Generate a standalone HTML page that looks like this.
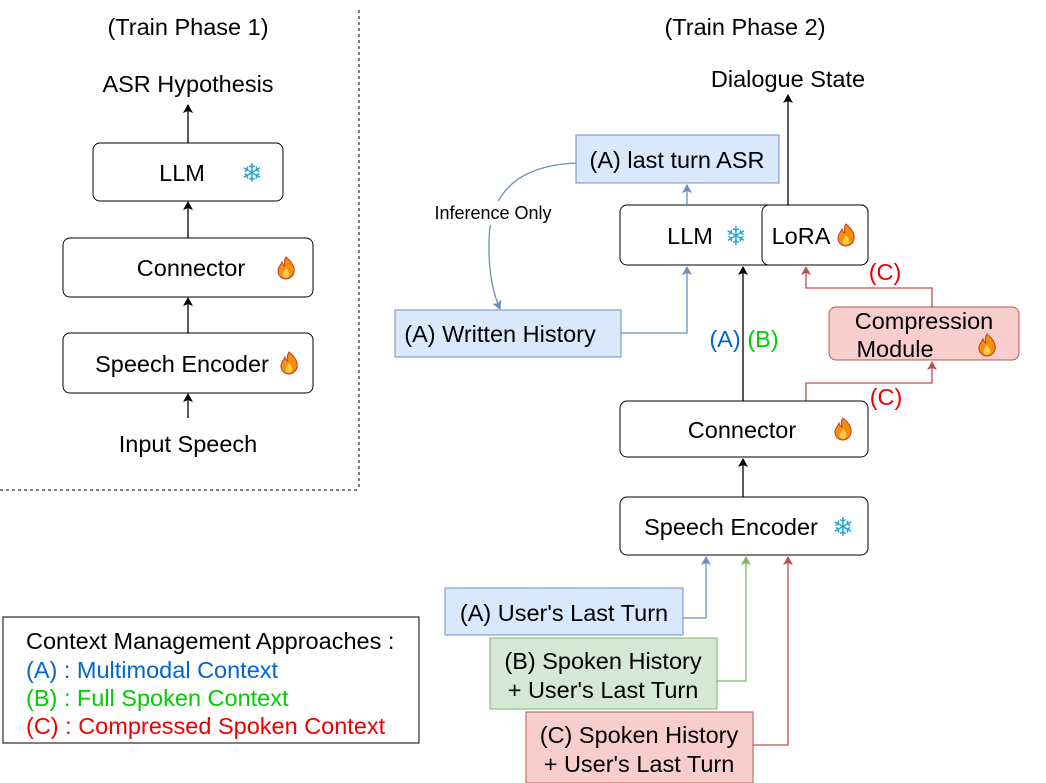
<!DOCTYPE html>
<html><head><meta charset="utf-8"><style>
html,body{margin:0;padding:0;background:#fff;}
svg{display:block;font-family:"Liberation Sans",Arial,sans-serif;}
</style></head><body>
<svg width="1046" height="783" viewBox="0 0 1046 783" xmlns="http://www.w3.org/2000/svg">
<defs>
<marker id="ak" markerWidth="10" markerHeight="10" refX="8" refY="5" orient="auto" markerUnits="userSpaceOnUse"><path d="M0,0 L9,5 L0,10 L2,5 Z" fill="#000"/></marker>
<marker id="ab" markerWidth="10" markerHeight="10" refX="8" refY="5" orient="auto" markerUnits="userSpaceOnUse"><path d="M0,0 L9,5 L0,10 L2,5 Z" fill="#6c8ebf"/></marker>
<marker id="ag" markerWidth="10" markerHeight="10" refX="8" refY="5" orient="auto" markerUnits="userSpaceOnUse"><path d="M0,0 L9,5 L0,10 L2,5 Z" fill="#82b366"/></marker>
<marker id="ar" markerWidth="10" markerHeight="10" refX="8" refY="5" orient="auto" markerUnits="userSpaceOnUse"><path d="M0,0 L9,5 L0,10 L2,5 Z" fill="#b85450"/></marker>
<g id="fire">
<path d="M0,-11 C6,-6 9,-1 8,4 C7,9 3,11 0,11 C-4,11 -8,8 -8,3 C-8,-1 -5,-3 -4,-6 C-3,-3 -2,-2 -1,-2 C-2,-5 -2,-8 0,-11 Z" fill="#f4900c" stroke="#c0392b" stroke-width="1"/>
<path d="M0,0 C3,3 4,6 3,8 C2,10 -2,10 -3,8 C-4,6 -2,3 0,0 Z" fill="#ffcc4d"/>
</g>
</defs>
<style>
text{font-size:23.5px;fill:#000;}
.ln{fill:none;stroke-width:1.3;}
.sn{fill:#2aa7c9;font-size:26px;font-family:'DejaVu Sans',sans-serif;}
</style>

<!-- Left phase -->
<line x1="359" y1="10" x2="359" y2="490" stroke="#000" stroke-dasharray="3,3"/>
<line x1="0" y1="490" x2="359" y2="490" stroke="#000" stroke-dasharray="3,3"/>
<text x="188" y="35" text-anchor="middle">(Train Phase 1)</text>
<text x="188" y="92" text-anchor="middle">ASR Hypothesis</text>
<rect x="93" y="143" width="190" height="58" rx="7" fill="#fff" stroke="#000"/>
<text x="182" y="181" text-anchor="middle">LLM</text>
<text x="252" y="182" text-anchor="middle" class="sn">❄</text>
<rect x="63" y="238" width="250" height="59" rx="7" fill="#fff" stroke="#000"/>
<text x="191" y="276" text-anchor="middle">Connector</text>
<use href="#fire" x="286" y="268"/>
<rect x="63" y="333" width="250" height="60" rx="7" fill="#fff" stroke="#000"/>
<text x="182" y="372" text-anchor="middle">Speech Encoder</text>
<use href="#fire" x="289" y="363"/>
<text x="188" y="452" text-anchor="middle">Input Speech</text>
<line class="ln" x1="188" y1="418" x2="188" y2="394" stroke="#000" marker-end="url(#ak)"/>
<line class="ln" x1="188" y1="333" x2="188" y2="298" stroke="#000" marker-end="url(#ak)"/>
<line class="ln" x1="188" y1="238" x2="188" y2="202" stroke="#000" marker-end="url(#ak)"/>
<line class="ln" x1="188" y1="143" x2="188" y2="105" stroke="#000" marker-end="url(#ak)"/>

<!-- Right phase -->
<text x="745" y="35" text-anchor="middle">(Train Phase 2)</text>
<text x="788" y="87" text-anchor="middle">Dialogue State</text>
<line class="ln" x1="788" y1="207" x2="788" y2="95" stroke="#000" marker-end="url(#ak)"/>

<rect x="576" y="135" width="203" height="48" fill="#dae8fc" stroke="#6c8ebf"/>
<text x="677" y="168" text-anchor="middle">(A) last turn ASR</text>

<rect x="620" y="205" width="248" height="60" rx="7" fill="#fff" stroke="#000"/>
<rect x="762" y="205" width="106" height="60" rx="7" fill="#fff" stroke="#000"/>
<text x="690" y="244" text-anchor="middle">LLM</text>
<text x="736" y="245" text-anchor="middle" class="sn">❄</text>
<text x="801" y="244" text-anchor="middle">LoRA</text>
<use href="#fire" x="846" y="235"/>
<line class="ln" x1="687" y1="205" x2="687" y2="185" stroke="#6c8ebf" marker-end="url(#ab)"/>

<path class="ln" d="M576,163 C510,166 490,200 489,240 C488,280 496,300 500,309" stroke="#6c8ebf" marker-end="url(#ab)"/>
<rect x="425" y="201" width="136" height="24" fill="#fff"/>
<text x="493" y="219" text-anchor="middle" style="font-size:18px">Inference Only</text>

<rect x="395" y="310" width="226" height="47" fill="#dae8fc" stroke="#6c8ebf"/>
<text x="500" y="342" text-anchor="middle">(A) Written History</text>
<path class="ln" d="M621,333 H687 V267" stroke="#6c8ebf" marker-end="url(#ab)"/>

<line class="ln" x1="743" y1="401" x2="743" y2="267" stroke="#000" marker-end="url(#ak)"/>
<text x="725" y="347" text-anchor="middle" style="fill:#0066cc">(A)</text>
<text x="763" y="347" text-anchor="middle" style="fill:#00cc00">(B)</text>

<rect x="829" y="307" width="190" height="53" rx="7" fill="#f8cecc" stroke="#b85450"/>
<text x="924" y="329" text-anchor="middle">Compression</text>
<text x="895" y="357" text-anchor="middle">Module</text>
<use href="#fire" x="987" y="345"/>
<path class="ln" d="M932,307 V288 H806 V267" stroke="#b85450" marker-end="url(#ar)"/>
<text x="885" y="280" text-anchor="middle" style="fill:#ee0000">(C)</text>
<path class="ln" d="M806,401 V383 H932 V362" stroke="#b85450" marker-end="url(#ar)"/>
<text x="886" y="405" text-anchor="middle" style="fill:#ee0000">(C)</text>

<rect x="620" y="401" width="248" height="56" rx="7" fill="#fff" stroke="#000"/>
<text x="742" y="438" text-anchor="middle">Connector</text>
<use href="#fire" x="843" y="429"/>
<line class="ln" x1="743" y1="497" x2="743" y2="459" stroke="#000" marker-end="url(#ak)"/>

<rect x="620" y="497" width="248" height="58" rx="7" fill="#fff" stroke="#000"/>
<text x="731" y="535" text-anchor="middle">Speech Encoder</text>
<text x="843" y="536" text-anchor="middle" class="sn">❄</text>

<rect x="445" y="588" width="238" height="47" fill="#dae8fc" stroke="#6c8ebf"/>
<text x="564" y="621" text-anchor="middle">(A) User's Last Turn</text>
<path class="ln" d="M683,618 H706 V557" stroke="#6c8ebf" marker-end="url(#ab)"/>

<rect x="490" y="638" width="227" height="71" fill="#d5e8d4" stroke="#82b366"/>
<text x="603" y="669" text-anchor="middle">(B) Spoken History</text>
<text x="603" y="698" text-anchor="middle">+ User's Last Turn</text>
<path class="ln" d="M717,681 H746 V557" stroke="#82b366" marker-end="url(#ag)"/>

<rect x="526" y="712" width="227" height="71" fill="#f8cecc" stroke="#b85450"/>
<text x="639" y="743" text-anchor="middle">(C) Spoken History</text>
<text x="639" y="772" text-anchor="middle">+ User's Last Turn</text>
<path class="ln" d="M753,745 H788 V557" stroke="#b85450" marker-end="url(#ar)"/>

<!-- Legend -->
<rect x="3" y="617" width="416" height="126" fill="#fff" stroke="#000"/>
<text x="26" y="649">Context Management Approaches :</text>
<text x="26" y="678" style="fill:#0066cc">(A) : Multimodal Context</text>
<text x="26" y="706" style="fill:#00cc00">(B) : Full Spoken Context</text>
<text x="26" y="734" style="fill:#ee0000">(C) : Compressed Spoken Context</text>
</svg>
</body></html>
